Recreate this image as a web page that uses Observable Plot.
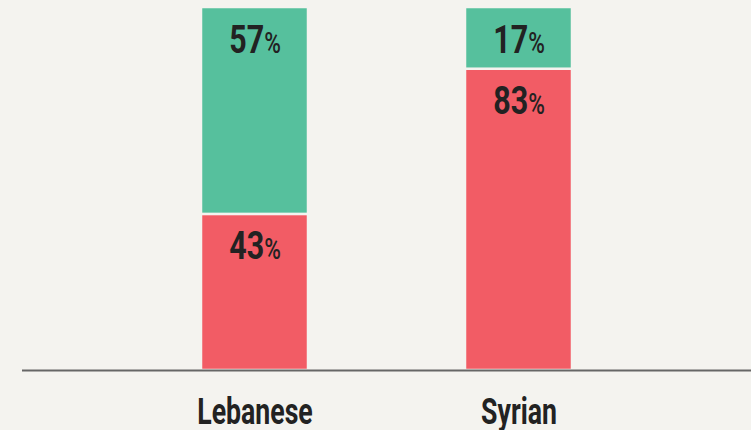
<!DOCTYPE html>
<html>
<head>
<meta charset="utf-8">
<script src="https://cdn.jsdelivr.net/npm/d3@7"></script>
<script src="https://cdn.jsdelivr.net/npm/@observablehq/plot@0.6"></script>
<style>
  html, body { margin: 0; padding: 0; background: #f4f3ef; }
  #chart svg { display: block; }
</style>
</head>
<body>
<div id="chart"></div>
<script>
const groups = ["Lebanese", "Syrian"];
const answers = ["No", "Yes"];
const noValues = [43, 83];
const yesValues = [57, 17];
const colors = ["#f25c65", "#56c09d"];

const data = [];
groups.forEach((g, i) => {
  data.push({group: g, answer: answers[0], value: noValues[i]});
  data.push({group: g, answer: answers[1], value: yesValues[i]});
});

const font = "Roboto, 'DejaVu Sans', sans-serif";

const chart = Plot.plot({
  width: 751,
  height: 430,
  marginTop: 7,
  marginBottom: 60,
  marginLeft: 22,
  marginRight: 0,
  style: {background: "#f4f3ef", fontFamily: font},
  x: {domain: groups, paddingInner: 0.596, paddingOuter: 0.674, axis: null},
  y: {domain: [0, 100], axis: null},
  color: {domain: answers, range: colors},
  marks: [
    Plot.barY(data, Plot.stackY({x: "group", y: "value", fill: "answer", order: answers, stroke: "#f4f3ef", strokeWidth: 2.5})),
    Plot.text(data, Plot.stackY2({x: "group", y: "value", z: "answer", order: answers,
      text: d => String(d.value), lineAnchor: "bottom", dy: 45, fontSize: 39, fontWeight: "bold", fill: "#222", fontFamily: font})),
    Plot.ruleY([0], {stroke: "#666", strokeWidth: 2}),
    Plot.text(groups, {x: d => d, frameAnchor: "bottom", lineAnchor: "bottom", dy: 53, fontSize: 36, fontWeight: "bold", fill: "#222", fontFamily: font})
  ]
});

document.getElementById("chart").appendChild(chart);

const textGroups = d3.select(chart).selectAll('g[aria-label="text"]').nodes();
// value labels: add a smaller % sign and condense the glyphs
d3.select(textGroups[0]).selectAll("text").each(function() {
  d3.select(this).append("tspan").attr("font-size", 29).attr("font-weight", "500").text("%");
  const w = this.getComputedTextLength();
  d3.select(this).attr("textLength", w * 0.78).attr("lengthAdjust", "spacingAndGlyphs");
});
// category labels: condensed
d3.select(textGroups[1]).selectAll("text").each(function() {
  const w = this.getComputedTextLength();
  d3.select(this).attr("textLength", w * 0.74).attr("lengthAdjust", "spacingAndGlyphs");
});
</script>
</body>
</html>
